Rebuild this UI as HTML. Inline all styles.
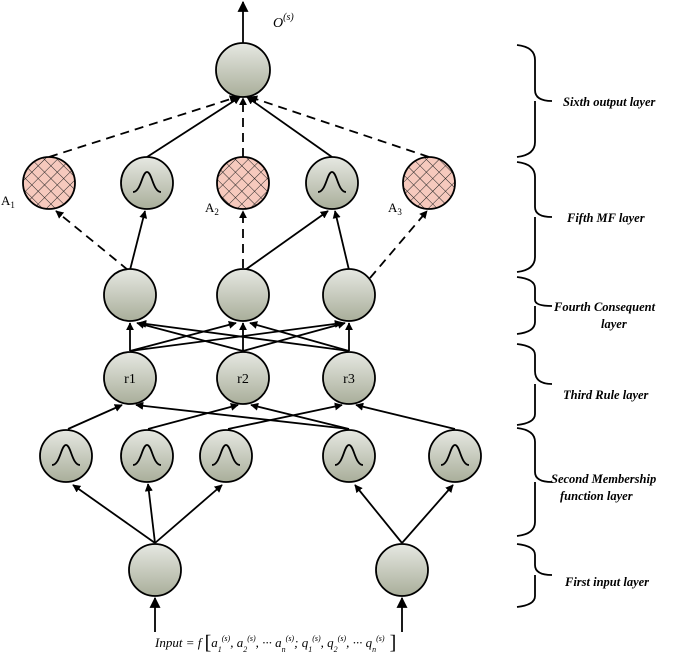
<!DOCTYPE html>
<html><head><meta charset="utf-8"><style>
html,body{margin:0;padding:0;background:#fff;}
svg{display:block;}
.lbl{font-family:"Liberation Serif",serif;font-weight:bold;font-style:italic;font-size:12.5px;fill:#000;}
.t{font-family:"Liberation Serif",serif;fill:#000;}
</style></head><body>
<svg width="685" height="660" viewBox="0 0 685 660" xmlns="http://www.w3.org/2000/svg">
<defs>
<linearGradient id="g" x1="0" y1="0" x2="0" y2="1">
<stop offset="0" stop-color="#e6e8e2"/><stop offset="1" stop-color="#a9ae9a"/>
</linearGradient>
<pattern id="h" width="9" height="9" patternUnits="userSpaceOnUse" patternTransform="rotate(45)">
<rect width="9" height="9" fill="#f6c9bd"/>
<path d="M0 0H9M0 0V9" stroke="#222" stroke-width="1"/>
</pattern>
<marker id="a" viewBox="0 0 10 10" refX="9" refY="5" markerWidth="8" markerHeight="8" markerUnits="userSpaceOnUse" orient="auto">
<path d="M0 0L10 5L0 10z" fill="#000"/>
</marker>
<marker id="b" viewBox="0 0 10 10" refX="9" refY="5" markerWidth="11" markerHeight="11" markerUnits="userSpaceOnUse" orient="auto">
<path d="M0 0L10 5L0 10z" fill="#000"/>
</marker>
<g id="bell"><path d="M-14 8 C-6 8,-5 -12,0 -12 C5 -12,6 8,14 8" fill="none" stroke="#000" stroke-width="1.8"/></g>
</defs>

<g stroke="#000" stroke-width="1.8" fill="none">
<!-- output arrow -->
<line x1="243" y1="43" x2="243" y2="2" marker-end="url(#b)"/>
<!-- fifth -> output -->
<line x1="49" y1="157" x2="237" y2="97" stroke-dasharray="9,6" marker-end="url(#a)"/>
<line x1="147" y1="157" x2="240" y2="97" marker-end="url(#a)"/>
<line x1="243" y1="157" x2="243" y2="98" stroke-dasharray="9,6" marker-end="url(#a)"/>
<line x1="332" y1="157" x2="247" y2="97" marker-end="url(#a)"/>
<line x1="429" y1="157" x2="250" y2="97" stroke-dasharray="9,6" marker-end="url(#a)"/>
<!-- fourth -> fifth -->
<line x1="128" y1="270" x2="56" y2="211" stroke-dasharray="9,6" marker-end="url(#a)"/>
<line x1="130" y1="270" x2="145" y2="211" marker-end="url(#a)"/>
<line x1="243" y1="268" x2="243" y2="211" stroke-dasharray="9,6" marker-end="url(#a)"/>
<line x1="245" y1="270" x2="328" y2="211" marker-end="url(#a)"/>
<line x1="349" y1="270" x2="335" y2="211" marker-end="url(#a)"/>
<line x1="370" y1="278" x2="427" y2="211" stroke-dasharray="9,6" marker-end="url(#a)"/>
<!-- rule -> fourth -->
<line x1="130" y1="351" x2="130" y2="323" marker-end="url(#a)"/>
<line x1="130" y1="351" x2="236" y2="323" marker-end="url(#a)"/>
<line x1="130" y1="351" x2="342" y2="323" marker-end="url(#a)"/>
<line x1="243" y1="351" x2="137" y2="323" marker-end="url(#a)"/>
<line x1="243" y1="351" x2="243" y2="323" marker-end="url(#a)"/>
<line x1="243" y1="351" x2="345" y2="323" marker-end="url(#a)"/>
<line x1="349" y1="351" x2="139" y2="323" marker-end="url(#a)"/>
<line x1="349" y1="351" x2="250" y2="323" marker-end="url(#a)"/>
<line x1="349" y1="351" x2="349" y2="323" marker-end="url(#a)"/>
<!-- MF -> rule -->
<line x1="68" y1="429" x2="122" y2="405" marker-end="url(#a)"/>
<line x1="148" y1="429" x2="238" y2="405" marker-end="url(#a)"/>
<line x1="228" y1="429" x2="342" y2="405" marker-end="url(#a)"/>
<line x1="349" y1="429" x2="136" y2="405" marker-end="url(#a)"/>
<line x1="349" y1="429" x2="251" y2="405" marker-end="url(#a)"/>
<line x1="455" y1="429" x2="356" y2="405" marker-end="url(#a)"/>
<!-- input -> MF -->
<line x1="155" y1="543" x2="73" y2="485" marker-end="url(#a)"/>
<line x1="155" y1="543" x2="148" y2="484" marker-end="url(#a)"/>
<line x1="155" y1="543" x2="222" y2="485" marker-end="url(#a)"/>
<line x1="402" y1="543" x2="355" y2="485" marker-end="url(#a)"/>
<line x1="402" y1="543" x2="453" y2="485" marker-end="url(#a)"/>
<!-- input arrows -->
<line x1="155" y1="632" x2="155" y2="598" marker-end="url(#b)"/>
<line x1="402" y1="632" x2="402" y2="598" marker-end="url(#b)"/>
</g>

<g stroke="#000" stroke-width="1.8">
<circle cx="243" cy="70" r="27" fill="url(#g)"/>
<circle cx="49" cy="183" r="26" fill="url(#h)"/>
<circle cx="147" cy="183" r="26" fill="url(#g)"/>
<circle cx="243" cy="183" r="26" fill="url(#h)"/>
<circle cx="332" cy="183" r="26" fill="url(#g)"/>
<circle cx="429" cy="183" r="26" fill="url(#h)"/>
<circle cx="130" cy="295" r="26" fill="url(#g)"/>
<circle cx="243" cy="295" r="26" fill="url(#g)"/>
<circle cx="349" cy="295" r="26" fill="url(#g)"/>
<circle cx="130" cy="378" r="26" fill="url(#g)"/>
<circle cx="243" cy="378" r="26" fill="url(#g)"/>
<circle cx="349" cy="378" r="26" fill="url(#g)"/>
<circle cx="66" cy="456" r="26" fill="url(#g)"/>
<circle cx="147" cy="456" r="26" fill="url(#g)"/>
<circle cx="226" cy="456" r="26" fill="url(#g)"/>
<circle cx="349" cy="456" r="26" fill="url(#g)"/>
<circle cx="455" cy="456" r="26" fill="url(#g)"/>
<circle cx="155" cy="570" r="26" fill="url(#g)"/>
<circle cx="402" cy="570" r="26" fill="url(#g)"/>
</g>
<use href="#bell" x="147" y="184"/>
<use href="#bell" x="332" y="184"/>
<use href="#bell" x="66" y="457"/>
<use href="#bell" x="147" y="457"/>
<use href="#bell" x="226" y="457"/>
<use href="#bell" x="349" y="457"/>
<use href="#bell" x="455" y="457"/>

<g class="t" font-size="14" text-anchor="middle">
<text x="130" y="383">r1</text><text x="243" y="383">r2</text><text x="349" y="383">r3</text>
</g>
<g class="t" font-size="13">
<text x="1" y="205">A<tspan font-size="9" dy="3">1</tspan></text>
<text x="205" y="212">A<tspan font-size="9" dy="3">2</tspan></text>
<text x="388" y="212">A<tspan font-size="9" dy="3">3</tspan></text>
<text x="273" y="27" font-style="italic" font-size="14">O<tspan font-size="10" dy="-7">(s)</tspan></text>
<text x="155" y="647" font-style="italic" font-size="13">Input = f <tspan font-size="20" font-style="normal" dy="2">[</tspan><tspan dy="-2">a</tspan><tspan font-size="8" dy="5">1</tspan><tspan font-size="8" dy="-11">(s)</tspan><tspan dy="6">, a</tspan><tspan font-size="8" dy="5">2</tspan><tspan font-size="8" dy="-11">(s)</tspan><tspan dy="6">, ··· a</tspan><tspan font-size="8" dy="5">n</tspan><tspan font-size="8" dy="-11">(s)</tspan><tspan dy="6">; q</tspan><tspan font-size="8" dy="5">1</tspan><tspan font-size="8" dy="-11">(s)</tspan><tspan dy="6">, q</tspan><tspan font-size="8" dy="5">2</tspan><tspan font-size="8" dy="-11">(s)</tspan><tspan dy="6">, ··· q</tspan><tspan font-size="8" dy="5">n</tspan><tspan font-size="8" dy="-11">(s)</tspan><tspan font-size="20" font-style="normal" dy="8"> ]</tspan></text>
</g>

<g stroke="#000" stroke-width="1.8" fill="none">
<path d="M517 45 Q535 47 535 60 V90 Q535 101 552 101 M535 101 Q535 101 535 112 V142 Q535 155 517 157"/>
<path d="M517 162 Q535 164 535 177 V207 Q535 217 552 217 M535 217 V257 Q535 270 517 272"/>
<path d="M517 277 Q535 279 535 288 V300 Q535 306 552 306 M535 306 V322 Q535 332 517 334"/>
<path d="M517 344 Q535 346 535 355 V371 Q535 384 552 384 M535 384 V414 Q535 423 517 425"/>
<path d="M517 428 Q535 430 535 442 V472 Q535 482 552 482 M535 482 V522 Q535 534 517 536"/>
<path d="M517 544 Q535 546 535 555 V565 Q535 575 552 575 M535 575 V596 Q535 605 517 607"/>
</g>
<g class="lbl">
<text x="563" y="106">Sixth output layer</text>
<text x="567" y="222">Fifth MF layer</text>
<text x="554" y="311">Fourth Consequent</text>
<text x="601" y="328">layer</text>
<text x="563" y="399">Third Rule layer</text>
<text x="551" y="483">Second Membership</text>
<text x="560" y="500">function layer</text>
<text x="565" y="586">First input layer</text>
</g>
</svg>
</body></html>
